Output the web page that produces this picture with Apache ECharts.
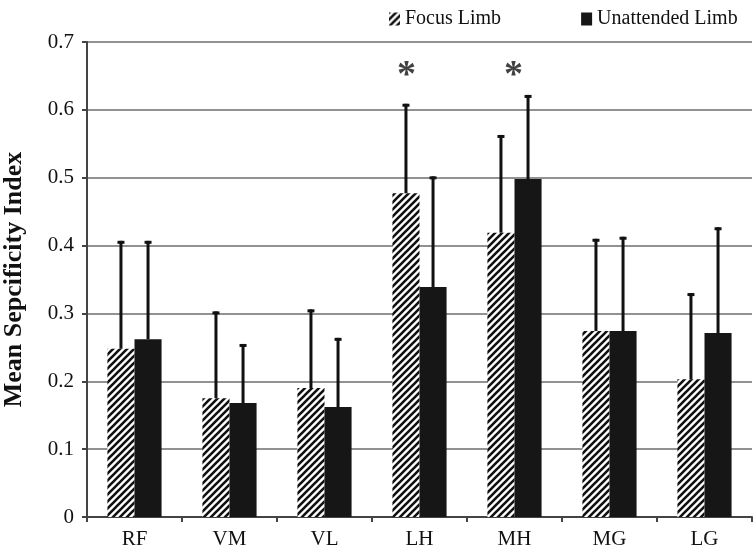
<!DOCTYPE html>
<html>
<head>
<meta charset="utf-8">
<title>Mean Specificity Index</title>
<script src="https://cdn.jsdelivr.net/npm/echarts@6/dist/echarts.min.js"></script>
<style>
  html, body { margin: 0; padding: 0; background: #fff; }
  #main { width: 755px; height: 550px; }
</style>
</head>
<body>
<div id="main"></div>
<script>
var categories = ['RF', 'VM', 'VL', 'LH', 'MH', 'MG', 'LG'];
var focusMean = [0.248, 0.175, 0.190, 0.477, 0.419, 0.274, 0.203];
var focusSD = [0.159, 0.128, 0.116, 0.132, 0.144, 0.136, 0.127];
var unattendedMean = [0.262, 0.168, 0.162, 0.339, 0.498, 0.274, 0.271];
var unattendedSD = [0.145, 0.087, 0.102, 0.163, 0.124, 0.139, 0.156];
var starCats = ['LH', 'MH'];
var starLevel = 0.66;
var yTicks = [0, 0.1, 0.2, 0.3, 0.4, 0.5, 0.6, 0.7];

var serif = "'Liberation Serif', 'Times New Roman', serif";
var ink = '#111';

// diagonal hatch for the focus limb bars
function hatch() {
  var s = 7;
  var c = document.createElement('canvas');
  c.width = s; c.height = s;
  var ctx = c.getContext('2d');
  ctx.fillStyle = '#fff';
  ctx.fillRect(0, 0, s, s);
  ctx.strokeStyle = '#111';
  ctx.lineWidth = 2.6;
  ctx.beginPath();
  ctx.moveTo(-1, s + 1); ctx.lineTo(s + 1, -1);
  ctx.moveTo(-2, 2); ctx.lineTo(2, -2);
  ctx.moveTo(s - 2, s + 2); ctx.lineTo(s + 2, s - 2);
  ctx.stroke();
  return c;
}

var BAR_FRAC = 0.285;

function errorSeries(name, means, sds, side) {
  return {
    name: name + ' SD',
    type: 'custom',
    z: 5,
    silent: true,
    data: means.map(function (m, i) { return [i, m, m + sds[i]]; }),
    renderItem: function (params, api) {
      var bw = api.size([1, 0])[0];
      var off = side * bw * BAR_FRAC / 2;
      var p0 = api.coord([api.value(0), api.value(1)]);
      var p1 = api.coord([api.value(0), api.value(2)]);
      var x = p0[0] + off;
      return {
        type: 'group',
        children: [
          { type: 'line', shape: { x1: x, y1: p0[1], x2: x, y2: p1[1] },
            style: { stroke: ink, lineWidth: 3 } },
          { type: 'line', shape: { x1: x - 3.5, y1: p1[1] + 1.5, x2: x + 3.5, y2: p1[1] + 1.5 },
            style: { stroke: ink, lineWidth: 3 } }
        ]
      };
    }
  };
}

var myChart = echarts.init(document.getElementById('main'));

var option = {
  backgroundColor: '#fff',
  animation: false,
  textStyle: { fontFamily: serif, color: ink },
  legend: {
    data: ['Focus Limb', 'Unattended Limb'],
    icon: 'rect',
    left: 384,
    top: 4,
    itemWidth: 11,
    itemHeight: 13,
    itemGap: 80,
    textStyle: { fontFamily: serif, fontSize: 20, color: ink }
  },
  grid: { left: 87, right: 3, top: 42, bottom: 33, containLabel: false, outerBoundsMode: 'none' },
  xAxis: {
    type: 'category',
    data: categories,
    axisLine: { lineStyle: { color: '#444', width: 2 } },
    axisTick: { show: true, length: 5, alignWithLabel: false, lineStyle: { color: '#444', width: 2 } },
    axisLabel: { fontFamily: serif, fontSize: 21, color: ink, margin: 12 },
    splitLine: { show: false }
  },
  yAxis: {
    type: 'value',
    min: 0,
    max: 0.7,
    interval: 0.1,
    name: 'Mean Sepcificity Index',
    nameLocation: 'middle',
    nameRotate: 90,
    nameGap: 60,
    nameTextStyle: { fontFamily: serif, fontSize: 26, fontWeight: 'bold', color: ink },
    axisLine: { show: true, lineStyle: { color: '#444', width: 2 } },
    axisTick: { show: true, length: 5, lineStyle: { color: '#444', width: 2 } },
    axisLabel: {
      fontFamily: serif, fontSize: 21, color: ink, margin: 13,
      formatter: function (v) {
        var t = yTicks.filter(function (k) { return Math.abs(k - v) < 1e-6; })[0];
        return t === 0 ? '0' : String(t);
      }
    },
    splitLine: { show: true, lineStyle: { color: '#919191', width: 2 } }
  },
  series: [
    {
      name: 'Focus Limb',
      type: 'bar',
      data: focusMean,
      barWidth: (BAR_FRAC * 100) + '%',
      barGap: '0%',
      itemStyle: { color: { image: hatch(), repeat: 'repeat' } }
    },
    {
      name: 'Unattended Limb',
      type: 'bar',
      data: unattendedMean,
      barWidth: (BAR_FRAC * 100) + '%',
      barGap: '0%',
      itemStyle: { color: '#161616' }
    },
    errorSeries('Focus Limb', focusMean, focusSD, -1),
    errorSeries('Unattended Limb', unattendedMean, unattendedSD, 1),
    {
      name: 'sig',
      type: 'scatter',
      silent: true,
      symbolSize: 1,
      itemStyle: { color: 'rgba(0,0,0,0)' },
      data: starCats.map(function (c, i) {
        return {
          value: [c, starLevel],
          label: { offset: [i === 0 ? -13 : -1, 7] }
        };
      }),
      label: {
        show: true,
        position: 'inside',
        formatter: '*',
        fontFamily: serif,
        fontSize: 38,
        fontWeight: 'bold',
        color: ink
      }
    }
  ]
};

myChart.setOption(option);
window.onresize = myChart.resize;
</script>
</body>
</html>
